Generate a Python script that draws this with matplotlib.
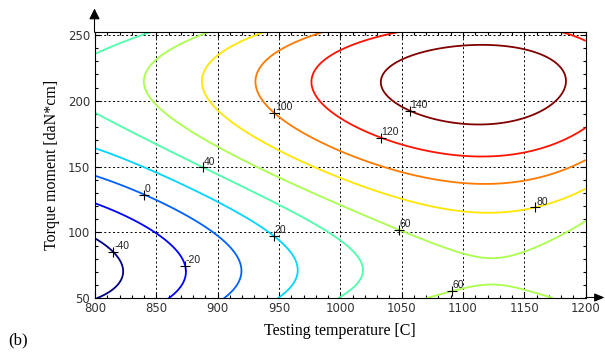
import numpy as np
import matplotlib
matplotlib.use("Agg")
import matplotlib.pyplot as plt

# Contour levels of the torque/temperature response map
levels = [-40, -20, 0, 20, 40, 60, 80, 100, 120, 140]

# Points traced along each iso-line: testing temperature [C] and torque moment [daN*cm]
temp_m40 = [800, 814, 819, 816, 805.5]
torq_m40 = [96, 85, 74.5, 62, 50]

temp_m20 = [800, 831, 849, 864, 871.5, 869, 861]
torq_m20 = [122.5, 113, 101, 88, 74.5, 62, 50]

temp_0 = [800, 841, 877.5, 900, 913, 917, 914, 907.3]
torq_0 = [143.2, 129.5, 112.4, 100, 88, 77, 62, 50]

temp_20 = [800, 842, 877.5, 920, 947, 958, 962, 958, 952]
torq_20 = [162.4, 147.7, 135, 113, 97.7, 85, 72, 60, 50]

temp_40 = [800, 847.5, 888, 945, 1000, 1011, 1013, 1010, 1001, 800, 815, 842]
torq_40 = [189.4, 168, 149, 128, 102, 88, 74.5, 62, 50, 233, 243.7, 252]

temp_60 = [888, 877.5, 858.5, 845, 842, 847.5, 864, 885.6, 931.8, 1000, 1049, 1100,
           1116.7, 1150, 1200, 1070.5, 1088, 1116.7, 1138.6, 1157.6]
torq_60 = [252, 245, 233.6, 221, 209.6, 198, 185.6, 171.7, 142.7, 123.7, 101.5, 80.8,
           78.3, 90, 113.6, 50, 58, 65.7, 60.6, 50]

temp_80 = [934.6, 904.6, 889.7, 904.6, 931.8, 981, 1040.6, 1111, 1157.5, 1200]
torq_80 = [252, 236, 211, 185.6, 170.5, 147.7, 128.8, 116.2, 120.5, 135.6]

temp_100 = [980.8, 950.9, 934.6, 946, 967, 999.8, 1049, 1116.7, 1184.7, 1200]
torq_100 = [252, 238.6, 214.6, 191, 173, 160.4, 145.3, 137, 147.7, 155.3]

temp_120 = [1038, 1005, 982, 991.7, 1008, 1032.5, 1057, 1103, 1149.5, 1200, 1184, 1200]
torq_120 = [252, 238.6, 214.6, 193, 180.5, 171.7, 165.4, 157.3, 159.8, 176.7, 252, 244.2]

temp_140 = [1040.6, 1048.8, 1057, 1111, 1152, 1184, 1157.5, 1103, 1070.6, 1055.5]
torq_140 = [214.6, 227, 231, 243, 237.4, 211.4, 188, 180, 187, 193]

# Estimated values inside the trough at the lower right (no iso-line crosses it)
trough_temp = [1114, 1114, 1200, 1200, 1185]
trough_torq = [72, 50, 50, 80, 65]
trough_val = [58.5, 64, 52, 52, 54]

# Where the level labels sit (clabel-style "+" marks)
label_levels = [-40, -20, 0, 20, 40, 60, 60, 80, 100, 120, 140]
label_temp = [814, 871.5, 841.3, 947, 888, 1049, 1088, 1157.5, 946, 1032.5, 1057]
label_torq = [85, 74.5, 129.5, 97.7, 149, 102.3, 58, 120.5, 191, 171.7, 193]

traces = [
    (temp_m40, torq_m40, -40), (temp_m20, torq_m20, -20), (temp_0, torq_0, 0),
    (temp_20, torq_20, 20), (temp_40, torq_40, 40), (temp_60, torq_60, 60),
    (temp_80, torq_80, 80), (temp_100, torq_100, 100), (temp_120, torq_120, 120),
    (temp_140, torq_140, 140),
]
T = np.concatenate([np.asarray(t, float) for t, _, _ in traces] + [np.asarray(trough_temp, float)])
M = np.concatenate([np.asarray(m, float) for _, m, _ in traces] + [np.asarray(trough_torq, float)])
Z = np.concatenate([np.full(len(t), lv, float) for t, _, lv in traces] + [np.asarray(trough_val, float)])


def basis(temp, torq):
    u = (np.asarray(temp) - 1000.0) / 200.0
    v = (np.asarray(torq) - 150.0) / 100.0
    return np.stack([u ** i * v ** j for i in range(5) for j in range(4)], axis=-1)


# Polynomial response surface through the traced iso-lines
coef, *_ = np.linalg.lstsq(basis(T, M), Z, rcond=None)

tg = np.linspace(800, 1200, 401)
mg = np.linspace(50, 252, 303)
TG, MG = np.meshgrid(tg, mg)
ZG = basis(TG, MG) @ coef

fig = plt.figure(figsize=(6.05, 3.54), dpi=100)
ax = fig.add_axes([95 / 605, 55.7 / 354, 490.7 / 605, 266.0 / 354])

cs = ax.contour(TG, MG, ZG, levels=levels, cmap="jet", vmin=-40, vmax=140,
                linewidths=1.3)

for lv, lt, lm in zip(label_levels, label_temp, label_torq):
    segs = cs.allsegs[levels.index(lv)]
    pts = np.concatenate([s for s in segs if len(s)]) if segs else np.array([[lt, lm]])
    d = ((pts[:, 0] - lt) / 400.0) ** 2 + ((pts[:, 1] - lm) / 200.0) ** 2
    px, py = pts[np.argmin(d)]
    ax.plot([px], [py], marker="+", color="k", ms=7, mew=0.8, zorder=5)
    ax.annotate(str(lv), (px, py), xytext=(0.5, 2), textcoords="offset points",
                fontsize=7.5, family="Liberation Sans", color="#222",
                ha="left", va="baseline", zorder=6)

ax.set_xlim(800, 1200)
ax.set_ylim(50, 252)
ax.set_xticks(np.arange(800, 1201, 50))
ax.set_yticks(np.arange(50, 251, 50))
ax.set_xticks(np.arange(800, 1201, 10), minor=True)
ax.set_yticks(np.arange(50, 251, 10), minor=True)
ax.grid(True, which="major", color="k", linestyle=(0, (2, 2.5)), linewidth=0.7)
ax.tick_params(which="both", direction="in", top=True, right=True,
               labelsize=8.5, labelcolor="#333", width=0.8)
ax.tick_params(which="major", length=4.5)
ax.tick_params(which="minor", length=2.5)
ax.tick_params(axis="y", pad=3.5)
ax.tick_params(axis="x", pad=2.5)
for sp in ax.spines.values():
    sp.set_linewidth(0.8)

ax.set_xlabel("Testing temperature [C]", family="Liberation Serif", fontsize=11.5,
              labelpad=6)
ax.set_ylabel("Torque moment [daN*cm]", family="Liberation Serif", fontsize=11.5,
              labelpad=6)

# Axis arrows
ax.annotate("", xy=(94.5, 354 - 8.5), xytext=(94.5, 354 - 32.3),
            xycoords="figure pixels", textcoords="figure pixels",
            arrowprops=dict(arrowstyle="-|>,head_length=0.65,head_width=0.32",
                            color="k", lw=0.8, shrinkA=0, shrinkB=0))
ax.annotate("", xy=(604.5, 354 - 297.5), xytext=(585.7, 354 - 297.5),
            xycoords="figure pixels", textcoords="figure pixels",
            arrowprops=dict(arrowstyle="-|>,head_length=0.6,head_width=0.25",
                            color="k", lw=0.8, shrinkA=0, shrinkB=0))

fig.text(8 / 605, 6 / 354, "(b)", family="Liberation Serif", fontsize=12,
         ha="left", va="bottom")

fig.savefig("out.png", dpi=100)
